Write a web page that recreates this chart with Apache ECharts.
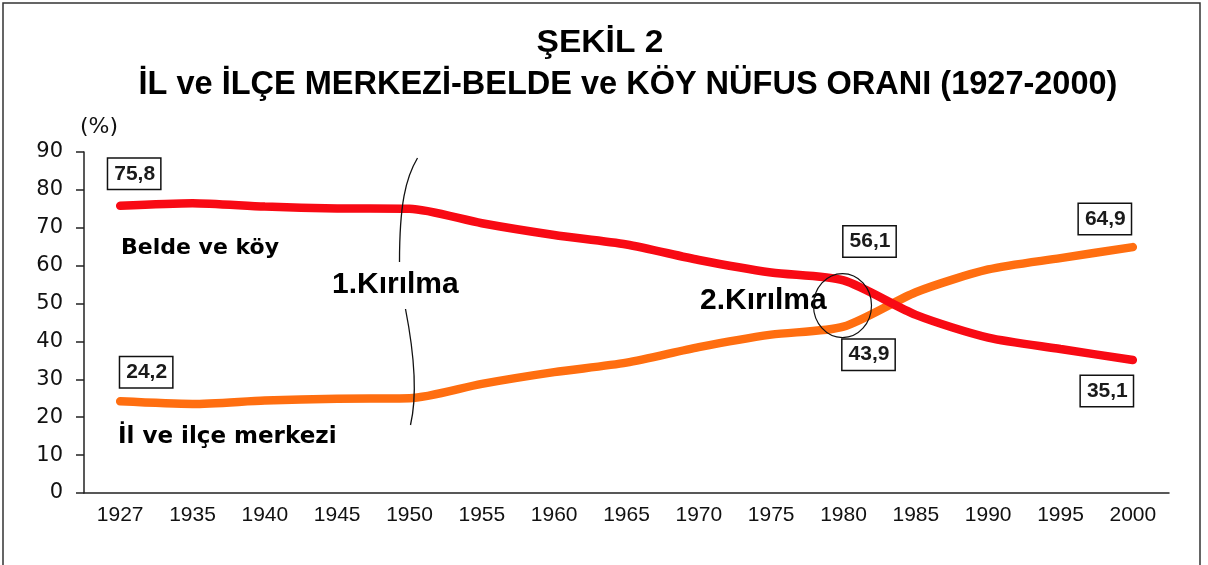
<!DOCTYPE html>
<html>
<head>
<meta charset="utf-8">
<script src="https://cdn.jsdelivr.net/npm/echarts@6/dist/echarts.min.js"></script>
<style>
html,body{margin:0;padding:0;background:#fff}
#chart{width:1208px;height:565px}
</style>
</head>
<body>
<div id="chart"></div>
<script>
// yıllar ve oranlar (%)
var years = ['1927','1935','1940','1945','1950','1955','1960','1965','1970','1975','1980','1985','1990','1995','2000'];
var koyValues = [75.8, 76.5, 75.6, 75.1, 75.0, 71.2, 68.1, 65.6, 61.5, 58.2, 56.1, 47.0, 41.0, 38.0, 35.1];
var merkezValues = [24.2, 23.5, 24.4, 24.9, 25.0, 28.8, 31.9, 34.4, 38.5, 41.8, 43.9, 53.0, 59.0, 62.0, 64.9];
var yTicks = [0, 10, 20, 30, 40, 50, 60, 70, 80, 90];

// kutulu etiketler: hangi yıl, etiketin kaydırması
var koyLabels = {'1927': [14, -32], '1980': [26, -39], '2000': [-26, 31]};
var merkezLabels = {'1927': [26, -29], '1980': [25, 28], '2000': [-28, -28]};

var chart = echarts.init(document.getElementById('chart'));

function fmt(v){ return String(v).replace('.', ','); }

function buildData(values, labels){
    return values.map(function(v, i){
        var off = labels[years[i]];
        if(!off) return v;
        return {
            value: v,
            label: {
                show: true,
                position: 'inside',
                offset: off,
                formatter: function(p){ return fmt(p.value); },
                fontFamily: 'Liberation Sans, Arial, sans-serif',
                fontWeight: 'bold',
                fontSize: 21,
                color: '#1a1a1a',
                backgroundColor: '#fff',
                borderColor: '#111',
                borderWidth: 1.5,
                padding: [5, 5, 4, 6]
            }
        };
    });
}

var option = {
    animation: false,
    backgroundColor: '#fff',
    grid: {
        left: 84,
        right: 39,
        top: 152,
        bottom: 72
    },
    xAxis: {
        type: 'category',
        data: years,
        axisLine: { lineStyle: { color: '#222', width: 1.5 } },
        axisTick: { length: 8, lineStyle: { color: '#222', width: 1.5 } },
        axisLabel: {
            fontFamily: 'Liberation Sans, Arial, sans-serif',
            fontSize: 21,
            color: '#111',
            margin: 12
        }
    },
    yAxis: {
        type: 'value',
        min: yTicks[0],
        max: yTicks[yTicks.length - 1],
        interval: 10,
        splitLine: { show: false },
        axisLine: { show: true, lineStyle: { color: '#222', width: 1.5 } },
        axisTick: { show: true, length: 8, lineStyle: { color: '#222', width: 1.5 } },
        axisLabel: {
            fontFamily: 'DejaVu Sans, sans-serif',
            fontSize: 21,
            color: '#111',
            margin: 21
        }
    },
    series: [
        {
            name: 'Belde ve köy',
            type: 'line',
            data: buildData(koyValues, koyLabels),
            smooth: 0.25,
            symbol: 'circle',
            symbolSize: 0,
            showSymbol: true,
            lineStyle: { color: '#f80a14', width: 8.5, cap: 'round' },
            itemStyle: { color: '#f80a14' },
            z: 3
        },
        {
            name: 'İl ve ilçe merkezi',
            type: 'line',
            data: buildData(merkezValues, merkezLabels),
            smooth: 0.25,
            symbol: 'circle',
            symbolSize: 0,
            showSymbol: true,
            lineStyle: { color: '#ff6e10', width: 8.5, cap: 'round' },
            itemStyle: { color: '#ff6e10' },
            z: 2
        }
    ]
};

chart.setOption(option);

// başlık, açıklama yazıları, kırılma işaretleri
var bold = 'bold';
var titleFont = 'Liberation Sans, Arial, sans-serif';
var p1950 = chart.convertToPixel({xAxisIndex: 0, yAxisIndex: 0}, ['1950', 50]);
var p1980 = chart.convertToPixel({xAxisIndex: 0, yAxisIndex: 0}, ['1980', 50]);
var bx = p1950[0];

chart.setOption({
    graphic: [
        {
            type: 'rect',
            shape: { x: 3, y: 3, width: 1197, height: 620 },
            style: { fill: 'none', stroke: '#333', lineWidth: 1.5 },
            silent: true
        },
        {
            type: 'text', x: 600, y: 44, scaleX: 1.1,
            style: { text: 'ŞEKİL 2', fontFamily: titleFont, fontWeight: bold, fontSize: 30.5,
                     fill: '#000', align: 'center', verticalAlign: 'middle' }
        },
        {
            type: 'text', x: 628, y: 85,
            style: { text: 'İL ve İLÇE MERKEZİ-BELDE ve KÖY NÜFUS ORANI (1927-2000)', fontFamily: titleFont,
                     fontWeight: bold, fontSize: 32.5, fill: '#000', align: 'center', verticalAlign: 'middle' }
        },
        {
            type: 'text', left: 80, top: 116,
            style: { text: '(%)', fontFamily: 'DejaVu Sans, sans-serif', fontSize: 22, fill: '#111' }
        },
        {
            type: 'text', left: 121, top: 237,
            style: { text: 'Belde ve köy', fontFamily: 'DejaVu Sans, sans-serif', fontWeight: bold, fontSize: 22, fill: '#000' }
        },
        {
            type: 'text', left: 118, top: 426,
            style: { text: 'İl ve ilçe merkezi', fontFamily: 'DejaVu Sans, sans-serif', fontWeight: bold, fontSize: 23, fill: '#000' }
        },
        {
            type: 'text', left: 332, top: 270,
            style: { text: '1.Kırılma', fontFamily: titleFont, fontWeight: bold, fontSize: 30, fill: '#000' }
        },
        {
            type: 'text', left: 700, top: 286,
            style: { text: '2.Kırılma', fontFamily: titleFont, fontWeight: bold, fontSize: 30, fill: '#000' }
        },
        {
            type: 'ellipse',
            shape: { cx: p1980[0] - 1, cy: p1980[1] + 2, rx: 29, ry: 32 },
            style: { fill: 'none', stroke: '#111', lineWidth: 1.2 },
            z: 10
        },
        {
            type: 'bezierCurve',
            shape: { x1: bx + 8, y1: 158, cpx1: bx - 4, cpy1: 178, cpx2: bx - 10, cpy2: 205, x2: bx - 10, y2: 262 },
            style: { fill: 'none', stroke: '#111', lineWidth: 1.3 },
            z: 10
        },
        {
            type: 'bezierCurve',
            shape: { x1: bx - 4, y1: 309, cpx1: bx + 4, cpy1: 350, cpx2: bx + 8, cpy2: 395, x2: bx + 1, y2: 425 },
            style: { fill: 'none', stroke: '#111', lineWidth: 1.3 },
            z: 10
        }
    ]
});
</script>
</body>
</html>
